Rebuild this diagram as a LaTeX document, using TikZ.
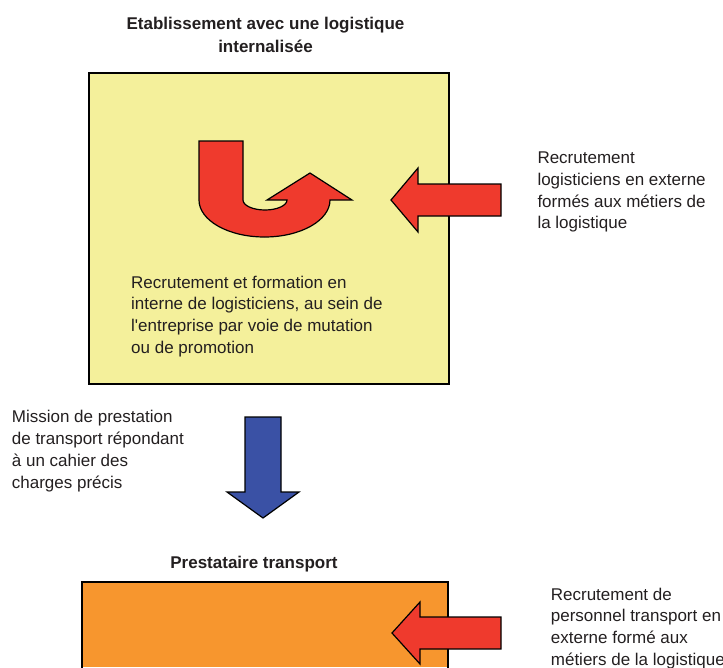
\documentclass[tikz,border=0pt]{standalone}
\usepackage{fontspec}
\setmainfont{Liberation Sans}[Ligatures=TeXOff]
\usetikzlibrary{positioning}

\definecolor{boxyellow}{HTML}{F4F09B}
\definecolor{boxorange}{HTML}{F7962E}
\definecolor{arrowred}{HTML}{EF3A2D}
\definecolor{arrowblue}{HTML}{3A51A5}
\definecolor{textgray}{HTML}{231F20}

\begin{document}
\begin{tikzpicture}[
    x=1pt, y=-1pt,
    txt/.style={inner sep=0, anchor=north west, align=left, text=textgray, font=\fontsize{17}{21.7}\selectfont},
    head/.style={txt, anchor=north, align=center, font=\fontsize{17}{22.7}\selectfont\bfseries},
    panel/.style={draw=black, line width=1.8},
    redarr/.style={draw=black, line width=1.2, fill=arrowred, line join=miter},
    bluearr/.style={redarr, fill=arrowblue}
]
\useasboundingbox (0,0) rectangle (723,667);

% internal logistics block
\node[head] (titleint) at (265.5,17) {Etablissement avec une logistique\\internalisée};
\node[panel, fill=boxyellow, anchor=north west, minimum width=360, minimum height=311, inner sep=0] (etab) at (88,72) {};

% u-turn arrow: internal mobility
\draw[redarr] (199,141) -- (243,141) -- (243,200)
    arc[start angle=180, end angle=0, x radius=22, y radius=10]
    -- (267,200) -- (310,173) -- (352,200) -- (330,200)
    arc[start angle=0, end angle=180, x radius=65.5, y radius=37]
    -- cycle;

% external hiring into the company
\draw[redarr] (391,200) -- (418,168) -- (418,184) -- (501,184) -- (501,216) -- (418,216) -- (418,232) -- cycle;

\node[txt] (recruint) at (131,275.6) {Recrutement et formation en\\interne de logisticiens, au sein de\\l'entreprise par voie de mutation\\ou de promotion};
\node[txt] (recruext) at (537.3,151.7) {Recrutement\\logisticiens en externe\\formés aux métiers de\\la logistique};

% subcontracting arrow
\draw[bluearr] (245,417) -- (281,417) -- (281,492) -- (299,492) -- (263,518) -- (227,492) -- (245,492) -- cycle;
\node[txt] (mission) at (11.7,410.4) {Mission de prestation\\de transport répondant\\à un cahier des\\charges précis};

% transport provider block
\node[head] (titleprest) at (254,556) {Prestataire transport};
\fill[boxorange] (82,582) rectangle (448,667);
\draw[panel] (82,670) |- (448,582) -- (448,670);

\draw[redarr] (392,633) -- (420,602) -- (420,617) -- (501,617) -- (501,649) -- (420,649) -- (420,664) -- cycle;
\node[txt] (recruprest) at (550.7,587.7) {Recrutement de\\personnel transport en\\externe formé aux\\métiers de la logistique};
\end{tikzpicture}
\end{document}
